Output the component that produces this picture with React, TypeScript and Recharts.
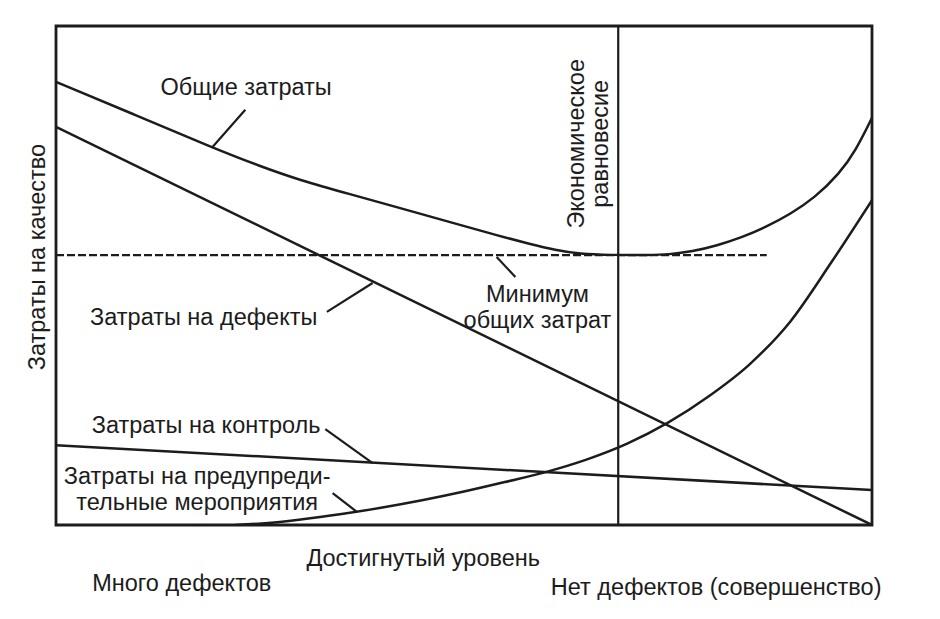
import React from 'react';
import {
  ComposedChart,
  Line,
  XAxis,
  YAxis,
  ReferenceLine,
  ReferenceArea,
  ReferenceDot,
} from 'recharts';

// Общие затраты
const totalX = [0, 9.7, 19.2, 25.0, 29.9, 36.0, 42.2, 48.3, 54.4, 58.1, 61.2, 64.2, 67.9, 72.8, 75, 78, 81, 84, 87, 90, 93, 96, 98, 100];
const totalY = [88.8, 82.2, 75.6, 71.9, 69.1, 66.3, 63.5, 60.7, 57.9, 56.3, 55.1, 54.3, 54.1, 54.1, 54.2, 54.8, 56.0, 57.6, 59.7, 62.3, 65.6, 70.4, 75.0, 81.6];
// Затраты на дефекты
const defectsX = [0, 100];
const defectsY = [79.8, 0];
// Затраты на контроль
const controlX = [0, 100];
const controlY = [16.0, 7.0];
// Затраты на предупредительные мероприятия
const preventionX = [22, 26, 30, 35, 40, 45, 50, 55, 60, 65, 70, 75, 80, 85, 90, 95, 100];
const preventionY = [0, 0.4, 1.1, 2.2, 3.5, 5.0, 6.7, 8.6, 10.6, 13.1, 16.3, 20.5, 25.8, 32.2, 40.8, 52.6, 65.1];
// Минимум общих затрат (пунктир)
const minimumX = [0, 87.1];
const minimumY = [54.1, 54.1];
// Экономическое равновесие
const equilibriumX = 68.9;

const labelTexts = [
  'Общие затраты',
  'Экономическое',
  'равновесие',
  'Минимум',
  'общих затрат',
  'Затраты на дефекты',
  'Затраты на контроль',
  'Затраты на предупреди-',
  'тельные мероприятия',
  'Затраты на качество',
  'Достигнутый уровень',
  'Много дефектов',
  'Нет дефектов (совершенство)',
];
const labelX = [23.3, 63.7, 66.7, 59.0, 59.0, 18.1, 18.4, 17.3, 17.3, -2.3, 45.0, 15.4, 80.9];
const labelY = [87.8, 76.4, 76.4, 46.3, 41.1, 41.7, 20.0, 9.8, 4.6, 53.7, -6.6, -11.6, -12.4];
const labelRotate = [0, -90, -90, 0, 0, 0, 0, 0, 0, -90, 0, 0, 0];

// Выноски
const leaderFromX = [23.2, 54.0, 33.2, 33.0, 33.9];
const leaderFromY = [83.2, 53.7, 42.7, 19.2, 6.4];
const leaderToX = [19.1, 56.3, 38.8, 38.8, 36.9];
const leaderToY = [75.6, 49.7, 48.5, 12.4, 2.6];

const zip = (xs: number[], ys: number[]) => xs.map((x, i) => ({ x, y: ys[i] }));

const INK = '#1c1c1c';
const FONT = '"Liberation Sans", Arial, sans-serif';
const LW = 2.5;

const makeText = (text: string, rotate: number) => (props: any) => {
  const { cx, cy } = props;
  return (
    <text
      x={cx}
      y={cy}
      textAnchor="middle"
      dominantBaseline="central"
      fontSize={23.5}
      fontFamily={FONT}
      fill={INK}
      transform={rotate ? `rotate(${rotate} ${cx} ${cy})` : undefined}
    >
      {text}
    </text>
  );
};

export default function App() {
  return (
    <div style={{ position: 'absolute', left: 0, top: 0, width: 940, height: 619, background: '#fff' }}>
      <ComposedChart width={940} height={619} margin={{ top: 26, left: 56, right: 68, bottom: 94 }}>
        <XAxis type="number" dataKey="x" domain={[0, 100]} hide allowDataOverflow />
        <YAxis type="number" dataKey="y" domain={[0, 100]} hide allowDataOverflow />
        <ReferenceArea x1={0} x2={100} y1={0} y2={100} fill="none" stroke={INK} strokeWidth={2.8} />
        <ReferenceLine x={equilibriumX} stroke={INK} strokeWidth={2.2} />
        <Line data={zip(minimumX, minimumY)} dataKey="y" type="linear" stroke={INK} strokeWidth={2.2} strokeDasharray="8 3" dot={false} isAnimationActive={false} />
        <Line data={zip(totalX, totalY)} dataKey="y" type="basis" stroke={INK} strokeWidth={LW} dot={false} isAnimationActive={false} />
        <Line data={zip(defectsX, defectsY)} dataKey="y" type="linear" stroke={INK} strokeWidth={LW} dot={false} isAnimationActive={false} />
        <Line data={zip(controlX, controlY)} dataKey="y" type="linear" stroke={INK} strokeWidth={LW} dot={false} isAnimationActive={false} />
        <Line data={zip(preventionX, preventionY)} dataKey="y" type="monotone" stroke={INK} strokeWidth={LW} dot={false} isAnimationActive={false} />
        {leaderFromX.map((fx, i) => (
          <ReferenceLine
            key={'l' + i}
            segment={[{ x: fx, y: leaderFromY[i] }, { x: leaderToX[i], y: leaderToY[i] }]}
            stroke={INK}
            strokeWidth={2.2}
            ifOverflow="visible"
          />
        ))}
        {labelTexts.map((t, i) => (
          <ReferenceDot
            key={'t' + i}
            x={labelX[i]}
            y={labelY[i]}
            r={1}
            ifOverflow="visible"
            shape={makeText(t, labelRotate[i])}
          />
        ))}
      </ComposedChart>
    </div>
  );
}
